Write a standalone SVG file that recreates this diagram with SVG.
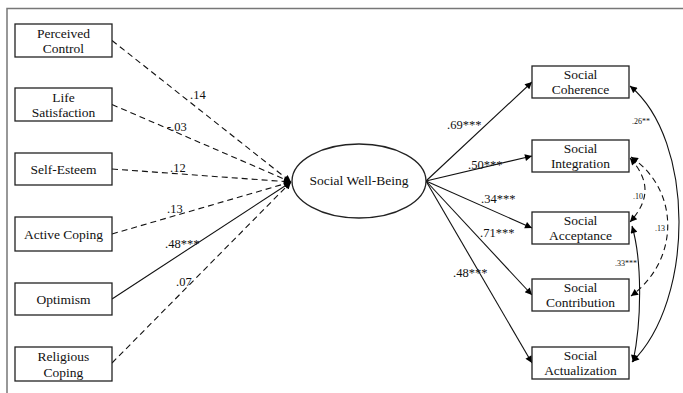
<svg xmlns="http://www.w3.org/2000/svg" width="683" height="393" viewBox="0 0 683 393">
<defs>
<marker id="ah" viewBox="0 0 10 10" refX="10" refY="5" markerWidth="10" markerHeight="7" markerUnits="userSpaceOnUse" orient="auto-start-reverse">
<path d="M0,0 L10,5 L0,10 z" fill="#000"/>
</marker>
<style>
text{font-family:"Times New Roman","Liberation Serif",Tinos,"DejaVu Serif",serif}
.box{fill:#fff;stroke:#222;stroke-width:1.3}
.t{font-size:13.5px;fill:#111;text-anchor:middle}
.l{font-size:12.5px;fill:#111}
.s{font-size:8px;fill:#111}
.e{fill:none;stroke:#111;stroke-width:1.1;marker-end:url(#ah)}
.d{stroke-dasharray:6,4}
.c{fill:none;stroke:#111;stroke-width:1.1;marker-start:url(#ah);marker-end:url(#ah)}
</style>
</defs>
<rect width="683" height="393" fill="#fff"/>
<g id="frame" fill="none" stroke="#777" stroke-width="1.5">
<path d="M7,393 L7,8.5 L683,8.5"/>
</g>
<g id="connectors">
<path class="e d" d="M112,40.5 L291,182"/>
<path class="e d" d="M112,104.5 L291,182"/>
<path class="e d" d="M112,169 L291,182"/>
<path class="e d" d="M112,234 L291,182"/>
<path class="e" d="M112,299 L291,182"/>
<path class="e d" d="M112,363 L291,182"/>
<path class="e" d="M426,181 L532,82"/>
<path class="e" d="M426,181 L532,156"/>
<path class="e" d="M426,181 L532,228"/>
<path class="e" d="M426,181 L532,295"/>
<path class="e" d="M426,181 L532,363"/>
<path class="c" d="M630,86 C695,140 695,300 632,362"/>
<path class="c d" d="M630,158 C650,180 650,200 630,222"/>
<path class="c d" d="M631,157 C680,190 680,260 631,296"/>
<path class="c" d="M632,226 C642,260 642,320 633,362"/>
</g>
<g id="labels">
<text class="l" x="190" y="99">.14</text>
<text class="l" x="167" y="131">-.03</text>
<text class="l" x="170" y="172">.12</text>
<text class="l" x="167" y="213">.13</text>
<text class="l" x="165" y="248">.48***</text>
<text class="l" x="176" y="286">.07</text>
<text class="l" x="447" y="129">.69***</text>
<text class="l" x="468" y="169">.50***</text>
<text class="l" x="481" y="203">.34***</text>
<text class="l" x="480" y="237">.71***</text>
<text class="l" x="453" y="277">.48***</text>
<text class="s" x="632" y="124">.26**</text>
<text class="s" x="633" y="199">.10</text>
<text class="s" x="655" y="231">.13</text>
<text class="s" x="615" y="266">.33***</text>
</g>
<g id="perceived-control"><rect class="box" x="15" y="24" width="97" height="33"/><text class="t" x="63.5" y="38">Perceived</text><text class="t" x="63.5" y="53">Control</text></g>
<g id="life-satisfaction"><rect class="box" x="15" y="88" width="97" height="33"/><text class="t" x="63.5" y="102">Life</text><text class="t" x="63.5" y="117">Satisfaction</text></g>
<g id="self-esteem"><rect class="box" x="15" y="153" width="97" height="32"/><text class="t" x="63.5" y="174">Self-Esteem</text></g>
<g id="active-coping"><rect class="box" x="15" y="217" width="97" height="34"/><text class="t" x="63.5" y="239">Active Coping</text></g>
<g id="optimism"><rect class="box" x="15" y="283" width="97" height="32"/><text class="t" x="63.5" y="304">Optimism</text></g>
<g id="religious-coping"><rect class="box" x="15" y="347" width="97" height="34"/><text class="t" x="63.5" y="361">Religious</text><text class="t" x="63.5" y="377">Coping</text></g>
<g id="social-well-being"><ellipse cx="359" cy="181" rx="67" ry="37" fill="#fff" stroke="#222" stroke-width="1.3"/><text class="t" x="359" y="185">Social Well-Being</text></g>
<g id="social-coherence"><rect class="box" x="532" y="66" width="97" height="32"/><text class="t" x="580.5" y="79">Social</text><text class="t" x="580.5" y="94">Coherence</text></g>
<g id="social-integration"><rect class="box" x="532" y="140" width="97" height="32"/><text class="t" x="580.5" y="153">Social</text><text class="t" x="580.5" y="168">Integration</text></g>
<g id="social-acceptance"><rect class="box" x="532" y="212" width="97" height="32"/><text class="t" x="580.5" y="225">Social</text><text class="t" x="580.5" y="240">Acceptance</text></g>
<g id="social-contribution"><rect class="box" x="532" y="279" width="97" height="32"/><text class="t" x="580.5" y="292">Social</text><text class="t" x="580.5" y="307">Contribution</text></g>
<g id="social-actualization"><rect class="box" x="532" y="347" width="97" height="32"/><text class="t" x="580.5" y="360">Social</text><text class="t" x="580.5" y="375">Actualization</text></g>
</svg>
